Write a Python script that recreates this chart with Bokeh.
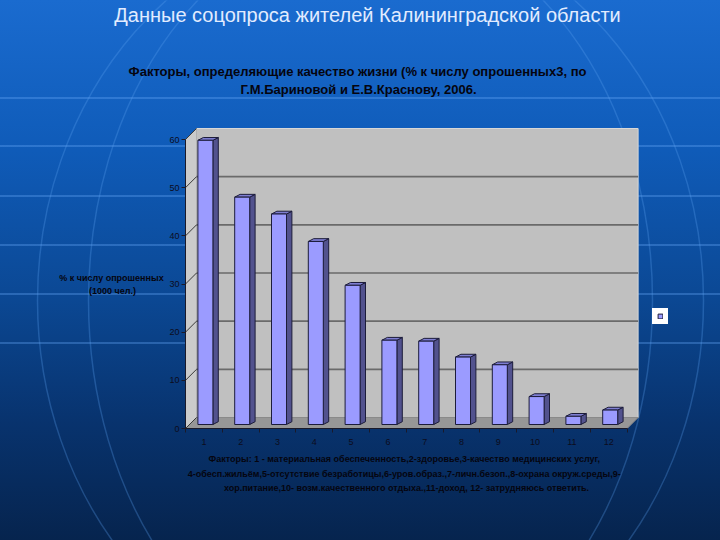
from bokeh.plotting import figure
from bokeh.models import Range1d, FixedTicker, Label, Legend, LegendItem
from bokeh.embed import file_html
from bokeh.resources import INLINE

# ---------------- data ----------------
categories = ["1", "2", "3", "4", "5", "6", "7", "8", "9", "10", "11", "12"]
values = [59.0, 47.2, 43.7, 38.0, 28.9, 17.5, 17.3, 14.0, 12.4, 5.8, 1.7, 3.0]
y_ticks = [0, 10, 20, 30, 40, 50, 60]

title_main = "Данные соцопроса жителей Калининградской области"
title_lines = [
    "Факторы, определяющие качество жизни (% к числу опрошенных3, по",
    "Г.М.Бариновой и Е.В.Краснову, 2006.",
]
ylabel_lines = ["% к числу опрошенных", "(1000 чел.)"]
caption_lines = [
    "Факторы: 1 - материальная обеспеченность,2-здоровье,3-качество медицинских  услуг,",
    "4-обесп.жильём,5-отсутствие  безработицы,6-уров.образ.,7-личн.безоп.,8-охрана окруж.среды,9-",
    "хор.питание,10- возм.качественного отдыха.,11-доход, 12- затрудняюсь ответить.",
]

# ---------------- layout (pixels) ----------------
W, H = 720, 540
AX_L, AX_B = 185, 428        # position of the front axes (px)
CAT_PX = 36.8                # px per category
VAL_PX = (428 - 139) / 60.0  # px per value unit

n = len(categories)
ymax = y_ticks[-1]


def dx(px):
    return px / CAT_PX


def dy(px):
    return px / VAL_PX


def X(px):
    return 0.5 + (px - AX_L) / CAT_PX


def Y(py):
    return (AX_B - py) / VAL_PX


FONT = "Liberation Sans"

p = figure(
    width=W, height=H, output_backend="svg", toolbar_location=None, title=None,
    x_range=Range1d(X(0), X(W)), y_range=Range1d(Y(H), Y(0)),
    min_border=0,
)
p.background_fill_color = None
p.border_fill_color = None
p.outline_line_color = None
p.grid.visible = False

lines_css = ", ".join(
    "linear-gradient(rgba(105,170,250,0.33), rgba(105,170,250,0.33)) 0 %dpx / 100%% 2px no-repeat" % y
    for y in [97, 145, 195, 244, 293, 342]
)
p.styles = {
    "background": lines_css
    + ", linear-gradient(180deg, #1a6bcf 0%, #0f5bb8 28%, #0b4894 55%, #08336e 78%, #06244e 100%)"
}

# globe meridians in the background
p.ellipse(x=[X(370)] * 2, y=[Y(300)] * 2,
          width=[dx(666), dx(564)], height=[dy(760)] * 2,
          fill_color=None, line_color="#5aa0f0", line_alpha=0.3, line_width=1.5)

# ---------------- 3D walls ----------------
DXW, DYW = dx(11), dy(11)
x0, x1 = 0.5, n + 0.5

p.quad(left=x0 + DXW, right=x1 + DXW, bottom=DYW, top=ymax + DYW,
       fill_color="#c0c0c0", line_color="#d8d8d8", line_width=1)
p.patch([x0, x0 + DXW, x0 + DXW, x0], [0, DYW, ymax + DYW, ymax],
        fill_color="#cbcbcb", line_color="#b0b0b0", line_width=1)
p.patch([x0, x1, x1 + DXW, x0 + DXW], [0, 0, DYW, DYW],
        fill_color="#979797", line_color="#8a8a8a", line_width=1)

grid_vals = y_ticks[1:-1]
p.segment(x0=[x0 + DXW] * len(grid_vals), y0=[v + DYW for v in grid_vals],
          x1=[x1 + DXW] * len(grid_vals), y1=[v + DYW for v in grid_vals],
          line_color="#6a6a6a", line_width=1.6)
p.segment(x0=[x0] * len(y_ticks), y0=y_ticks,
          x1=[x0 + DXW] * len(y_ticks), y1=[v + DYW for v in y_ticks],
          line_color="#3a3a3a", line_width=1)

# ---------------- 3D bars ----------------
BW = dx(15)
SX, SY = dx(1.5), dy(4)
BDX, BDY = dx(5.4), dy(2.8)
xs = [i + 1 for i in range(n)]
left = [x - BW / 2 + SX for x in xs]
right = [x + BW / 2 + SX for x in xs]
top = [v + SY for v in values]

side_xs = [[r, r + BDX, r + BDX, r] for r in right]
side_ys = [[SY, SY + BDY, t + BDY, t] for t in top]
top_xs = [[l, l + BDX, r + BDX, r] for l, r in zip(left, right)]
top_ys = [[t, t + BDY, t + BDY, t] for t in top]

OUT = "#1c1c3a"
p.patches(side_xs, side_ys, fill_color="#52528e", line_color=OUT, line_width=1)
p.patches(top_xs, top_ys, fill_color="#7e7ed2", line_color=OUT, line_width=1)
front = p.quad(left=left, right=right, bottom=SY, top=top,
               fill_color="#9b9bff", line_color=OUT, line_width=1)

# ---------------- axes ----------------
TICK_COLOR = "#0c0c1c"
ya = p.yaxis[0]
ya.fixed_location = x0
ya.ticker = FixedTicker(ticks=y_ticks)
ya.bounds = (0, ymax)
ya.axis_line_color = "#1a1a2a"
ya.major_tick_line_color = "#1a1a2a"
ya.major_tick_out = 4
ya.major_tick_in = 0
ya.minor_tick_line_color = None
ya.major_label_standoff = 2
ya.major_label_text_font = FONT
ya.major_label_text_font_size = "9px"
ya.major_label_text_color = TICK_COLOR

xa = p.xaxis[0]
xa.fixed_location = 0
xa.ticker = FixedTicker(ticks=xs, minor_ticks=[x0 + i for i in range(n + 1)])
xa.major_label_overrides = {x: c for x, c in zip(xs, categories)}
xa.bounds = (x0, x1)
xa.axis_line_color = "#1a1a2a"
xa.major_tick_line_color = None
xa.minor_tick_line_color = "#1a1a2a"
xa.minor_tick_out = 4
xa.minor_tick_in = 0
xa.major_label_standoff = 4
xa.major_label_text_font = FONT
xa.major_label_text_font_size = "9px"
xa.major_label_text_color = TICK_COLOR

# ---------------- legend ----------------
legend = Legend(items=[LegendItem(label=" ", renderers=[front])],
                location=(652, H - 324), orientation="vertical",
                glyph_width=6, glyph_height=6, padding=4, margin=0,
                label_width=0, label_standoff=0, label_height=6, spacing=0,
                background_fill_color="white", background_fill_alpha=1,
                border_line_color="white", border_line_width=1,
                label_text_font_size="4px")
p.add_layout(legend, "center")

# ---------------- texts ----------------
def add_text(txt, px, py, size, color, style="normal"):
    p.add_layout(Label(x=X(px), y=Y(py), text=txt, text_align="center",
                       text_baseline="middle", text_font=FONT,
                       text_font_size=size, text_color=color,
                       text_font_style=style))


add_text(title_main, 367, 14, "20px", "#e2ecff")
add_text(title_lines[0], 357, 71, "13px", "#05050f", "bold")
add_text(title_lines[1], 358, 89, "13px", "#05050f", "bold")
add_text(ylabel_lines[0], 111, 277, "9px", "#05050f", "bold")
add_text(ylabel_lines[1], 112, 290, "9px", "#05050f", "bold")
add_text(caption_lines[0], 405, 458, "9px", "#05050f", "bold")
add_text(caption_lines[1], 405, 473, "9px", "#05050f", "bold")
add_text(caption_lines[2], 406, 487, "9px", "#05050f", "bold")

open("out.html", "w").write(file_html(p, INLINE))
